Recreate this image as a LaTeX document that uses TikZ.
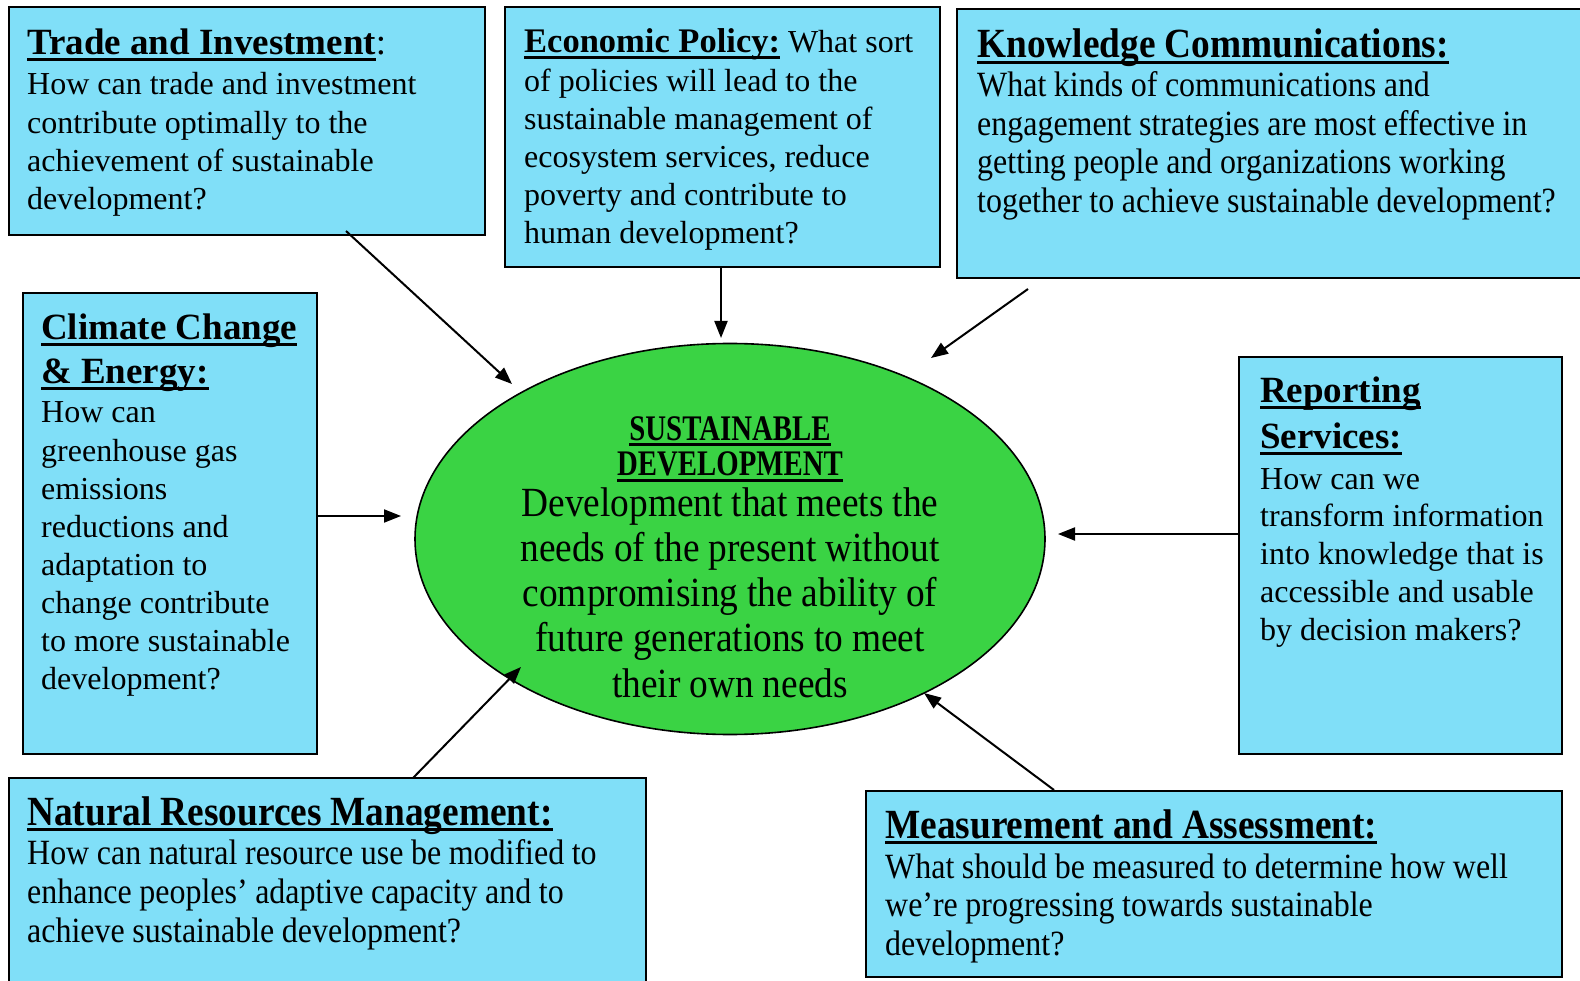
\documentclass[tikz,border=0pt]{standalone}
\usepackage{fontspec}
\setmainfont{Liberation Serif}
\newfontfamily\condfont[FakeStretch=0.9,WordSpace=0.95]{Liberation Serif}
\newfontfamily\sdfont[FakeStretch=0.8,WordSpace=0.8]{Liberation Serif}
\usetikzlibrary{arrows.meta,shapes.geometric}
\definecolor{boxcyan}{HTML}{80DFF8}
\definecolor{sdgreen}{HTML}{3AD344}
\newsavebox\ulsbox
\newcommand\myul[1]{\leavevmode\sbox\ulsbox{#1}\rlap{\rule[-6pt]{\wd\ulsbox}{2.6pt}}\usebox\ulsbox}
\begin{document}
\begin{tikzpicture}[x=1pt,y=-1pt,
  box/.style={draw=black, line width=2.2pt, fill=boxcyan, rectangle, inner sep=0pt, anchor=center},
  ttl/.style={anchor=base west, inner sep=0pt, text width=700pt, align=flush left, font=\fontsize{37pt}{44pt}\selectfont\bfseries},
  body/.style={anchor=base west, inner sep=0pt, text width=700pt, align=flush left, font=\fontsize{32pt}{38.2pt}\selectfont},
  cttl/.style={ttl, font=\fontsize{41.5pt}{44pt}\condfont\bfseries},
  cbody/.style={body, font=\fontsize{35.5pt}{38.5pt}\condfont},
  arr/.style={line width=2pt, -{Triangle[length=17pt,width=13pt]}}]
\useasboundingbox (0,0) rectangle (1580,981);

% boxes
\node[box, minimum width=476pt, minimum height=228pt] (trade) at (247,121) {};
\node[box, minimum width=435pt, minimum height=260pt] (econ) at (722.5,137) {};
\node[box, minimum width=643pt, minimum height=269pt] (know) at (1278.5,143.5) {};
\node[box, minimum width=294pt, minimum height=461pt] (clim) at (170,523.5) {};
\node[box, minimum width=323pt, minimum height=397pt] (report) at (1400.5,555.5) {};
\node[box, minimum width=637pt, minimum height=230pt] (natural) at (327.5,893) {};
\node[box, minimum width=696pt, minimum height=186pt] (measure) at (1214,884) {};
\node[ellipse, draw=black, line width=1.6pt, fill=sdgreen, minimum width=630pt, minimum height=391pt, inner sep=0pt] (sd) at (730,539) {};

% texts
\node[ttl] (tradeT) at (27,55) {\myul{Trade and Investment}\textmd{:}};
\node[body] (tradeB) at (27,95) {How can trade and investment\\contribute optimally to the\\achievement of sustainable\\development?};

\node[body] (econB) at (524,53) {{\fontsize{34.5pt}{38.2pt}\selectfont\bfseries\myul{Economic Policy:}} What sort\\of policies will lead to the\\sustainable management of\\ecosystem services, reduce\\poverty and contribute to\\human development?};

\node[cttl] (knowT) at (977,58) {\myul{Knowledge Communications:}};
\node[cbody] (knowB) at (977,97) {What kinds of communications and\\engagement strategies are most effective in\\getting people and organizations working\\together to achieve sustainable development?};

\node[ttl] (climT) at (41,340) {\myul{Climate Change}\\\myul{\& Energy:}};
\node[body, font=\fontsize{32pt}{38.1pt}\selectfont] (climB) at (41,423) {How can\\greenhouse gas\\emissions\\reductions and\\adaptation to\\change contribute\\to more sustainable\\development?};

\node[ttl, font=\fontsize{37pt}{46pt}\selectfont\bfseries] (reportT) at (1260,403) {\myul{Reporting}\\\myul{Services:}};
\node[body, font=\fontsize{32pt}{37.8pt}\selectfont] (reportB) at (1260,489) {How can we\\transform information\\into knowledge that is\\accessible and usable\\by decision makers?};

\node[cttl] (natT) at (27,825) {\myul{Natural Resources Management:}};
\node[cbody, font=\fontsize{35.5pt}{38.8pt}\condfont] (natB) at (27,864.5) {How can natural resource use be modified to\\enhance peoples’ adaptive capacity and to\\achieve sustainable development?};

\node[cttl] (measT) at (885,838) {\myul{Measurement and Assessment:}};
\node[cbody, font=\fontsize{35.5pt}{38.6pt}\condfont] (measB) at (885,878) {What should be measured to determine how well\\we’re progressing towards sustainable\\development?};

\node[anchor=base, inner sep=0pt, text width=600pt, align=flush center, font=\fontsize{36pt}{35.5pt}\sdfont\bfseries] (sdT) at (730,440) {\myul{SUSTAINABLE}\\\myul{DEVELOPMENT}};
\node[anchor=base, inner sep=0pt, text width=600pt, align=flush center, font=\fontsize{41.5pt}{45.3pt}\condfont] (sdB) at (730,516) {Development that meets the\\needs of the present without\\compromising the ability of\\future generations to meet\\their own needs};

% connector ends
\coordinate (s1) at (346,231); \coordinate (t1) at (512,384);
\coordinate (s2) at (721,268); \coordinate (t2) at (721,338);
\coordinate (s3) at (1028,289); \coordinate (t3) at (931,358);
\coordinate (s4) at (317,516); \coordinate (t4) at (401,516);
\coordinate (s5) at (1239,534); \coordinate (t5) at (1058,534);
\coordinate (s6) at (413,778); \coordinate (t6) at (521,667);
\coordinate (s7) at (1054,790); \coordinate (t7) at (924,693);

\draw[arr] (s1) -- (t1);
\draw[arr] (s2) -- (t2);
\draw[arr] (s3) -- (t3);
\draw[arr] (s4) -- (t4);
\draw[arr] (s5) -- (t5);
\draw[arr] (s6) -- (t6);
\draw[arr] (s7) -- (t7);
\end{tikzpicture}
\end{document}
